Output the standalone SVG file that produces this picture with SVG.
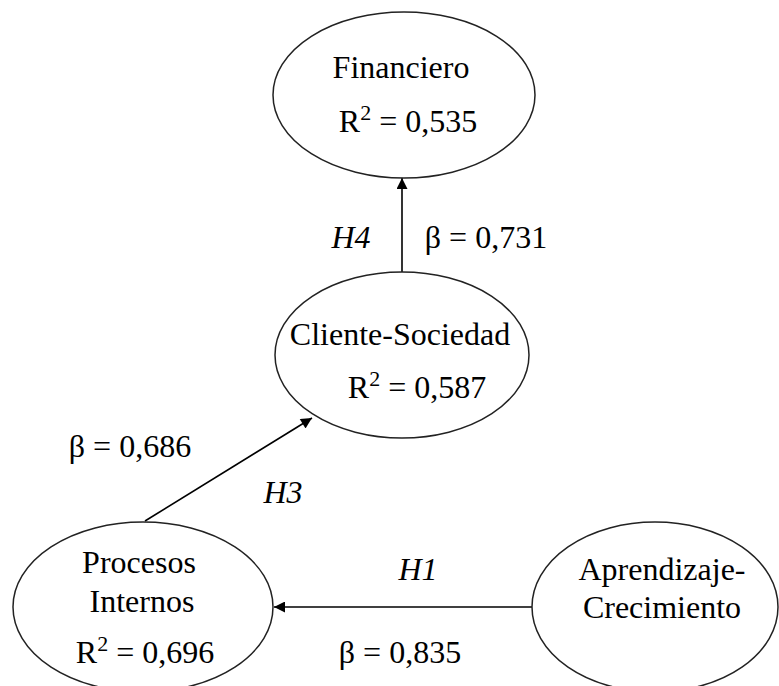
<svg xmlns="http://www.w3.org/2000/svg" width="779" height="686" viewBox="0 0 779 686">
  <style>
    .node { fill: #ffffff; stroke: #222222; stroke-width: 1.5; }
    .lbl { font-family: "Liberation Serif", "Times New Roman", serif; font-size: 32px; fill: #000000; text-anchor: middle; }
    .hyp { font-style: italic; }
    .sup { font-size: 22px; }
    .edge { stroke: #000000; stroke-width: 1.6; fill: none; marker-end: url(#arrow); }
  </style>
  <defs>
    <marker id="arrow" viewBox="0 0 10 10" refX="10" refY="5" markerWidth="12" markerHeight="11" markerUnits="userSpaceOnUse" orient="auto">
      <path d="M0,0 L10,5 L0,10 z" fill="#000000"/>
    </marker>
  </defs>
  <rect width="779" height="686" fill="#ffffff"/>

  <g id="connectors">
    <line class="edge" x1="402" y1="272" x2="402" y2="178"/>
    <line class="edge" x1="145" y1="521" x2="312" y2="418"/>
    <line class="edge" x1="532" y1="607" x2="274" y2="607"/>
    <text class="lbl hyp" x="351" y="248">H4</text>
    <text class="lbl" x="486" y="248">β = 0,731</text>
    <text class="lbl" x="130" y="457">β = 0,686</text>
    <text class="lbl hyp" x="283" y="503">H3</text>
    <text class="lbl hyp" x="418" y="580">H1</text>
    <text class="lbl" x="400" y="663">β = 0,835</text>
  </g>

  <g id="financiero">
    <ellipse class="node" cx="404" cy="95" rx="131" ry="83"/>
    <text class="lbl" x="401" y="78">Financiero</text>
    <text class="lbl" x="408" y="132">R<tspan class="sup" dy="-12">2</tspan><tspan dy="12"> = 0,535</tspan></text>
  </g>

  <g id="cliente-sociedad">
    <ellipse class="node" cx="402" cy="355" rx="127" ry="83"/>
    <text class="lbl" x="400" y="345">Cliente-Sociedad</text>
    <text class="lbl" x="417" y="398">R<tspan class="sup" dy="-12">2</tspan><tspan dy="12"> = 0,587</tspan></text>
  </g>

  <g id="procesos-internos">
    <ellipse class="node" cx="143" cy="607" rx="130" ry="85"/>
    <text class="lbl" x="139" y="573">Procesos</text>
    <text class="lbl" x="142" y="612">Internos</text>
    <text class="lbl" x="145" y="663">R<tspan class="sup" dy="-12">2</tspan><tspan dy="12"> = 0,696</tspan></text>
  </g>

  <g id="aprendizaje-crecimiento">
    <ellipse class="node" cx="655" cy="607" rx="123" ry="85"/>
    <text class="lbl" x="662" y="580">Aprendizaje-</text>
    <text class="lbl" x="662" y="618">Crecimiento</text>
  </g>
</svg>
